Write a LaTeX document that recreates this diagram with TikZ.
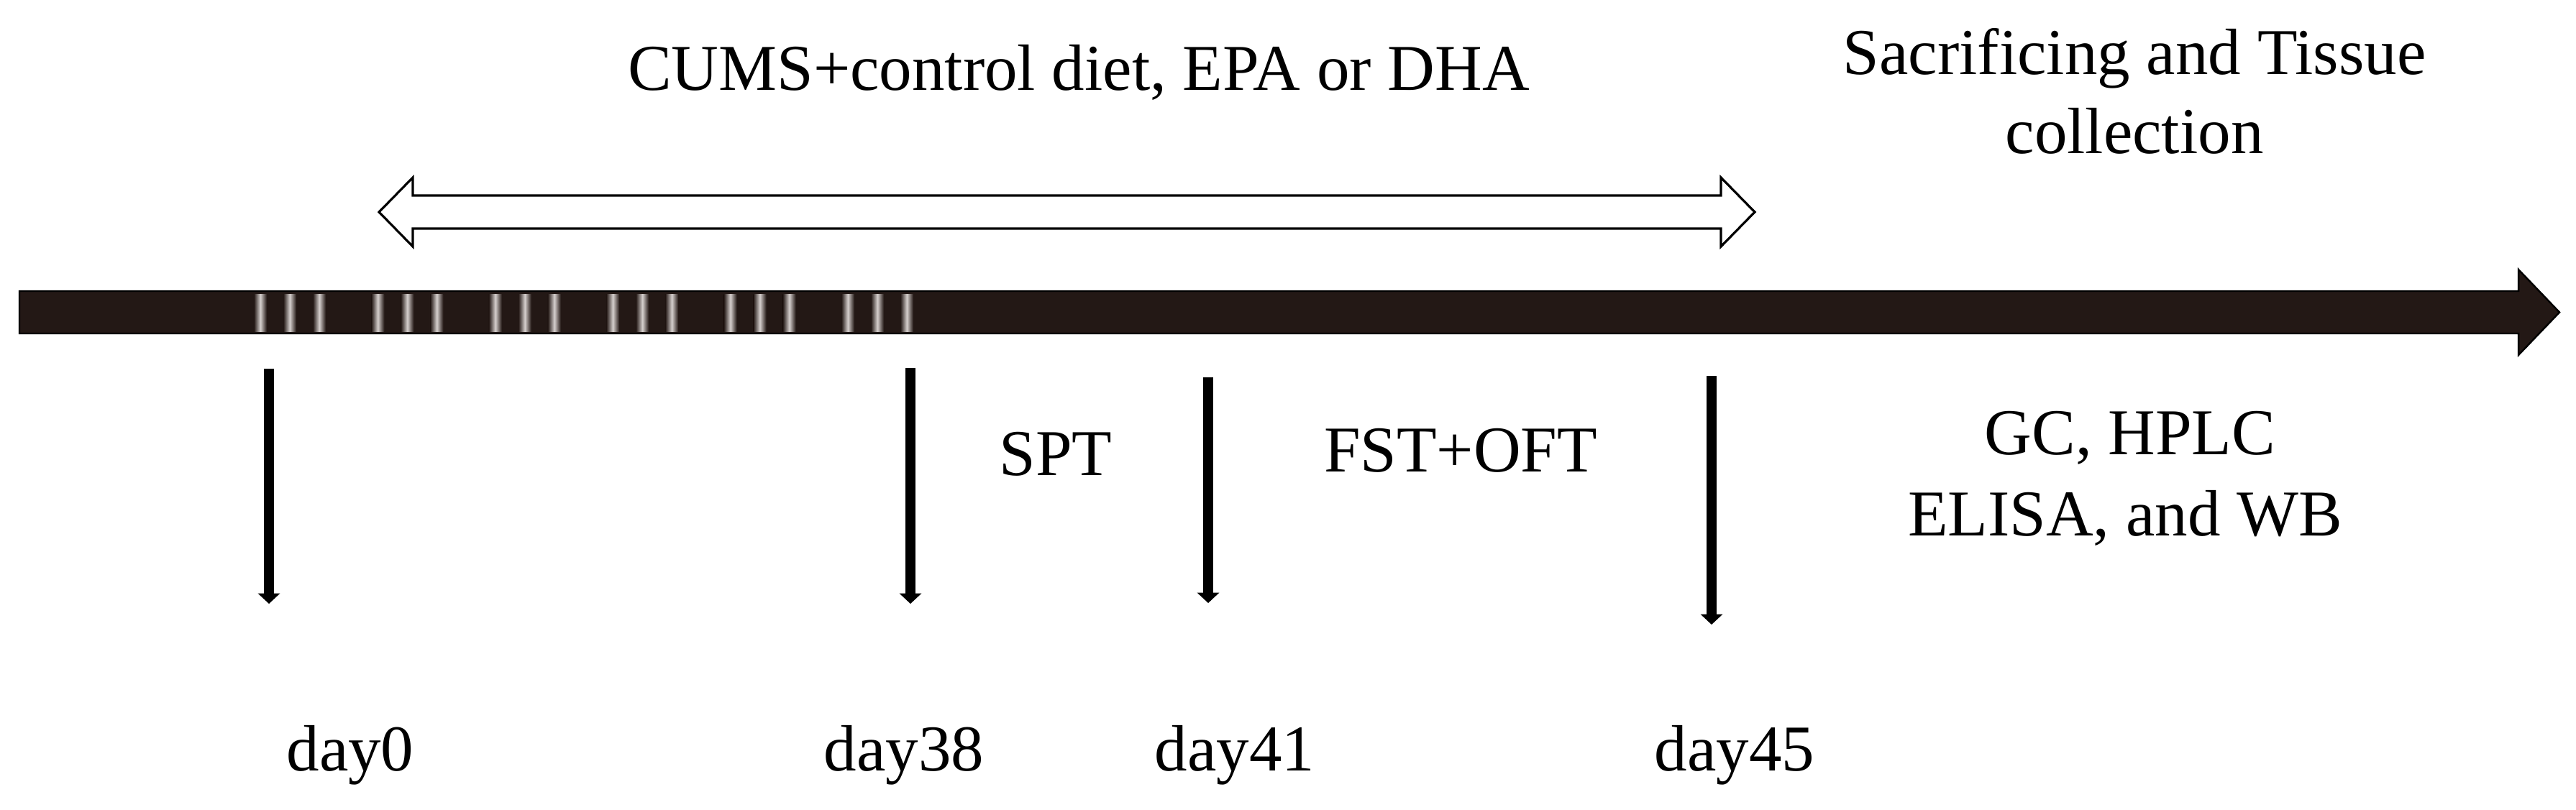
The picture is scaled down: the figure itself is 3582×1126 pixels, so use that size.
\documentclass[tikz,border=0pt]{standalone}
\usepackage{fontspec}
\setmainfont{Liberation Serif}
\usetikzlibrary{arrows.meta}
\definecolor{barcol}{HTML}{231815}
\definecolor{stripecol}{HTML}{D6D0CE}
\begin{document}
\begin{tikzpicture}[x=0.25pt,y=-0.25pt,
  lbl/.style={font=\fontsize{22.75}{27}\selectfont, inner sep=0pt, anchor=base},
  varrow/.style={line width=3.6pt, draw=black, -{Triangle[width=7.5pt,length=3.6pt]}},
  timebar/.style={fill=barcol, draw=black, line width=0.6pt, line join=miter},
  span/.style={fill=white, draw=black, line width=0.8pt, line join=miter}]
\useasboundingbox[fill=white] (0,0) rectangle (3582,1126);

% main time bar arrow
\draw[timebar] (27,405) -- (3502,405) -- (3502,375) -- (3559,434.5) -- (3502,494) -- (3502,464) -- (27,464) -- cycle;

% stress stripes
\foreach \g in {0,...,5}{
  \foreach \s in {0,1,2}{
    \pgfmathsetmacro\xc{362+163.4*\g+41*\s}
    \shade[left color=barcol,right color=barcol,middle color=stripecol] (\xc-9,409) rectangle (\xc+9,461);
  }
}

% double-headed outline arrow
\draw[span] (527,295) -- (574,247) -- (574,272) -- (2393,272) -- (2393,247) -- (2440,295)
  -- (2393,343) -- (2393,318) -- (574,318) -- (574,343) -- cycle;

% texts
\node[lbl] (title) at (1500,125) {CUMS+control diet, EPA or DHA};
\node[lbl] (sacA) at (2968,103) {Sacrificing and Tissue};
\node[lbl] (sacB) at (2968,213) {collection};
\node[lbl] (spt) at (1468,661) {SPT};
\node[lbl] (fst) at (2031,656) {FST+OFT};
\node[lbl] (gc) at (2962,632) {GC, HPLC};
\node[lbl] (elisa) at (2955,745) {ELISA, and WB};
\node[lbl] (d0) at (487,1072) {day0};
\node[lbl] (d38) at (1257,1072) {day38};
\node[lbl] (d41) at (1717,1072) {day41};
\node[lbl] (d45) at (2412,1072) {day45};

% vertical arrows
\coordinate (t0) at (374,513);  \coordinate (b0) at (374,840);
\coordinate (t38) at (1266,512); \coordinate (b38) at (1266,840);
\coordinate (t41) at (1680,525); \coordinate (b41) at (1680,839);
\coordinate (t45) at (2380,523); \coordinate (b45) at (2380,869);
\draw[varrow] (t0) -- (b0);
\draw[varrow] (t38) -- (b38);
\draw[varrow, line width=3.3pt] (t41) -- (b41);
\draw[varrow] (t45) -- (b45);
\end{tikzpicture}
\end{document}
